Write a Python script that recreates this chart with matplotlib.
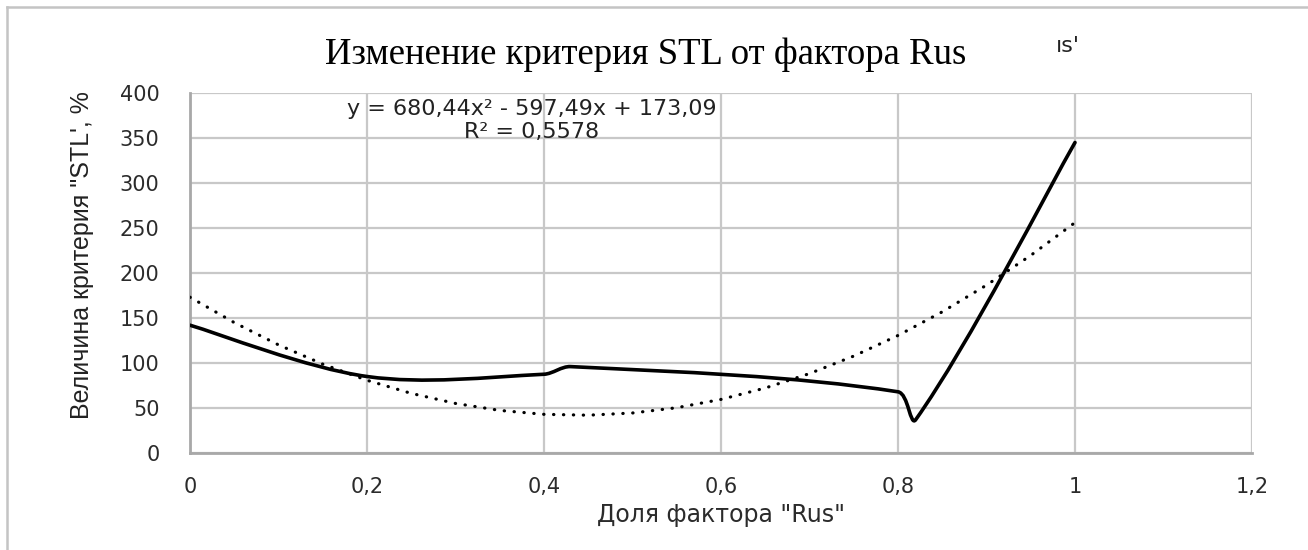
import numpy as np
import matplotlib
matplotlib.use("Agg")
import matplotlib.pyplot as plt
from matplotlib.path import Path
from matplotlib.patches import PathPatch
from matplotlib.lines import Line2D

# measured points of the STL curve (Excel smoothed line)
rus_share = [0.0, 0.2, 0.4, 0.43, 0.8, 0.82, 1.0]
stl_value = [142, 85, 87.5, 96, 68, 37, 345]

# polynomial trend shown on the chart
trend_coef = [680.44, -597.49, 173.09]
trend_r2 = 0.5578
trend_x = [0.0, 0.05, 0.1, 0.15, 0.2, 0.25, 0.3, 0.35, 0.4, 0.45, 0.5,
           0.55, 0.6, 0.65, 0.7, 0.75, 0.8, 0.85, 0.9, 0.95, 1.0]

x_ticks = [0, 0.2, 0.4, 0.6, 0.8, 1.0, 1.2]
x_tick_labels = ["0", "0,2", "0,4", "0,6", "0,8", "1", "1,2"]
y_ticks = [0, 50, 100, 150, 200, 250, 300, 350, 400]

title = "Изменение критерия STL от фактора Rus"
x_label = 'Доля фактора "Rus"'
y_label = 'Величина критерия "STL\', %'

W, H = 1308, 550
fig = plt.figure(figsize=(W / 100, H / 100), dpi=100)
ax = fig.add_axes([190 / W, 1 - 453 / H, (1252 - 190) / W, (453 - 93) / H])
ax.set_xlim(0, 1.2)
ax.set_ylim(0, 400)

grid_c = "#c8c8c8"
ax.grid(True, color=grid_c, lw=1.6)
ax.set_axisbelow(True)
for s in ["top", "right"]:
    ax.spines[s].set_visible(False)
for s in ["left", "bottom"]:
    ax.spines[s].set_color("#a8a8a8")
    ax.spines[s].set_linewidth(2.0)

ax.set_xticks(x_ticks)
ax.set_xticklabels(x_tick_labels)
ax.set_yticks(y_ticks)
ax.tick_params(axis="both", length=0, labelsize=15, labelcolor="#2b2b2b")
ax.tick_params(axis="y", pad=22)
ax.tick_params(axis="x", pad=17)


def smooth_path(xs, ys, sx, sy):
    # Excel-like smoothed line: cubic bezier with chord-length scaled tangents
    P = np.column_stack([np.asarray(xs) * sx, np.asarray(ys) * sy])
    n = len(P)
    verts = [P[0]]
    codes = [Path.MOVETO]
    for i in range(n - 1):
        a, b = P[i], P[i + 1]
        L = np.linalg.norm(b - a)
        if i == 0:
            c1 = a + (b - a) / 6
        else:
            Lb = np.linalg.norm(a - P[i - 1])
            c1 = a + (b - P[i - 1]) * L / (Lb + L) / 3
        if i + 1 == n - 1:
            c2 = b - (b - a) / 6
        else:
            Lf = np.linalg.norm(P[i + 2] - b)
            c2 = b - (P[i + 2] - a) * L / (L + Lf) / 3
        verts += [c1, c2, b]
        codes += [Path.CURVE4] * 3
    verts = np.array(verts) / [sx, sy]
    return Path(verts, codes)


pos = ax.get_position()
sx = pos.width * W / 1.2
sy = pos.height * H / 400
ax.add_patch(PathPatch(smooth_path(rus_share, stl_value, sx, sy), fill=False,
                       ec="black", lw=2.6, capstyle="round", joinstyle="round", zorder=3))

tx = np.array(trend_x)
ax.plot(tx, np.polyval(trend_coef, tx), color="black", lw=2.3,
        linestyle=(0, (0.1, 3.0)), dash_capstyle="round", zorder=3)

eq = "y = {:.2f}x² - {:.2f}x + {:.2f}".format(trend_coef[0], -trend_coef[1], trend_coef[2]).replace(".", ",")
fig.text(532 / W, 1 - 109 / H, eq, ha="center", va="center", fontsize=16, color="#222222")
fig.text(532 / W, 1 - 132 / H, "R² = {:.4f}".format(trend_r2).replace(".", ","),
         ha="center", va="center", fontsize=16, color="#222222")

fig.text(646 / W, 1 - 55 / H, title, ha="center", va="center",
         family=["Liberation Serif", "DejaVu Serif"], fontsize=26.5)
fig.text(1068 / W, 1 - 46 / H, "ıs'", ha="center", va="center", fontsize=16, color="#222222")

fig.text(721 / W, 1 - 515 / H, x_label, ha="center", va="center", fontsize=17, color="#2b2b2b")
fig.text(82 / W, 1 - 255 / H, y_label, ha="center", va="center", rotation=90,
         family=["Liberation Sans", "DejaVu Sans"], fontsize=18, color="#222222")

# outer chart frame (only top and left edges visible)
fig.add_artist(Line2D([7 / W, 7 / W], [0, 1 - 7 / H], transform=fig.transFigure, color="#c4c4c4", lw=1.8))
fig.add_artist(Line2D([7 / W, 1], [1 - 7 / H, 1 - 7 / H], transform=fig.transFigure, color="#c4c4c4", lw=1.8))

fig.savefig("out.png", dpi=100)
